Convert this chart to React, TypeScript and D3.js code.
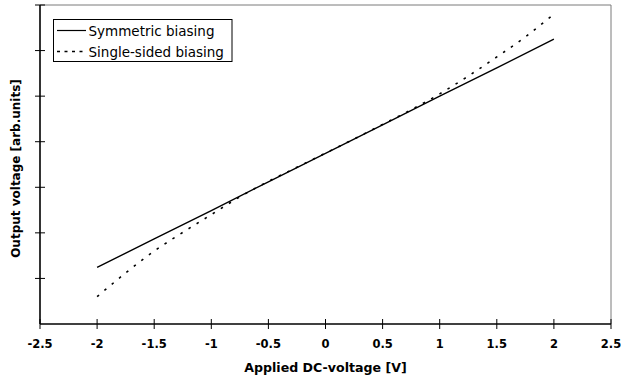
import React, { useEffect, useRef } from 'react';
import * as d3 from 'd3';

// --- data ---
const xTicks = [-2.5, -2, -1.5, -1, -0.5, 0, 0.5, 1, 1.5, 2, 2.5];
const yTicks = [0, 1, 2, 3, 4, 5, 6, 7];

const symX = [-2, -1.5, -1, -0.5, 0, 0.5, 1, 1.5, 2];
const symY = [1.24, 1.87, 2.49, 3.12, 3.745, 4.37, 5.0, 5.62, 6.25];

const singleX = [-2, -1.75, -1.5, -1.25, -1, -0.75, -0.5, -0.25, 0, 0.25, 0.5, 0.75, 1, 1.25, 1.5, 1.75, 2];
const singleY = [0.6, 1.12, 1.6, 2.01, 2.4, 2.79, 3.13, 3.44, 3.75, 4.06, 4.38, 4.7, 5.05, 5.44, 5.86, 6.3, 6.8];

const seriesNames = ['Symmetric biasing', 'Single-sided biasing'];

const App: React.FC = () => {
  const svgRef = useRef<SVGSVGElement | null>(null);

  useEffect(() => {
    if (!svgRef.current) return;
    const width = 621;
    const height = 382;
    const margin = { top: 5, right: 10, bottom: 58, left: 40 };
    const font = "'DejaVu Sans', sans-serif";

    const svg = d3.select(svgRef.current);
    svg.selectAll('*').remove();

    const x = d3.scaleLinear().domain([-2.5, 2.5]).range([margin.left, width - margin.right]);
    const y = d3.scaleLinear().domain([0, 7]).range([height - margin.bottom, margin.top]);

    const g = svg.append('g');

    // frame (top + right, thin grey)
    g.append('line')
      .attr('x1', x(-2.5)).attr('x2', x(2.5)).attr('y1', y(7)).attr('y2', y(7))
      .attr('stroke', '#7a7a7a').attr('stroke-width', 1);
    g.append('line')
      .attr('x1', x(2.5)).attr('x2', x(2.5)).attr('y1', y(7)).attr('y2', y(0))
      .attr('stroke', '#7a7a7a').attr('stroke-width', 1);

    // axes
    g.append('line')
      .attr('x1', x(-2.5)).attr('x2', x(2.5)).attr('y1', y(0)).attr('y2', y(0))
      .attr('stroke', '#000').attr('stroke-width', 1.6);
    g.append('line')
      .attr('x1', x(-2.5)).attr('x2', x(-2.5)).attr('y1', y(7)).attr('y2', y(0))
      .attr('stroke', '#000').attr('stroke-width', 1.6);

    // crossing ticks
    g.selectAll('.xt').data(xTicks).enter().append('line')
      .attr('x1', d => x(d)).attr('x2', d => x(d))
      .attr('y1', y(0) - 5).attr('y2', y(0) + 5)
      .attr('stroke', '#000').attr('stroke-width', 1);
    g.selectAll('.yt').data(yTicks.slice(1)).enter().append('line')
      .attr('x1', x(-2.5) - 5).attr('x2', x(-2.5) + 5)
      .attr('y1', d => y(d)).attr('y2', d => y(d))
      .attr('stroke', '#000').attr('stroke-width', 1);

    // x tick labels
    g.selectAll('.xl').data(xTicks).enter().append('text')
      .attr('x', d => x(d)).attr('y', y(0) + 24.3)
      .attr('text-anchor', 'middle')
      .attr('font-family', font).attr('font-size', '11.5px').attr('font-weight', 'bold')
      .text(d => String(d));

    // axis titles
    g.append('text')
      .attr('x', (x(-2.5) + x(2.5)) / 2).attr('y', y(0) + 47.7)
      .attr('text-anchor', 'middle')
      .attr('font-family', font).attr('font-size', '12.6px').attr('font-weight', 'bold')
      .text('Applied DC-voltage [V]');
    g.append('text')
      .attr('transform', `translate(20, ${(y(0) + y(7)) / 2 + 4}) rotate(-90)`)
      .attr('text-anchor', 'middle')
      .attr('font-family', font).attr('font-size', '12px').attr('font-weight', 'bold')
      .text('Output voltage [arb.units]');

    const line = d3.line<[number, number]>().x(d => x(d[0])).y(d => y(d[1]));

    const symData: [number, number][] = symX.map((v, i) => [v, symY[i]]);
    const singleData: [number, number][] = singleX.map((v, i) => [v, singleY[i]]);

    g.append('path').datum(symData)
      .attr('fill', 'none').attr('stroke', '#000').attr('stroke-width', 1.4)
      .attr('d', line);

    g.append('path').datum(singleData)
      .attr('fill', 'none').attr('stroke', '#000').attr('stroke-width', 1.6)
      .attr('stroke-dasharray', '2.5,7')
      .attr('d', d3.line<[number, number]>().x(d => x(d[0])).y(d => y(d[1])).curve(d3.curveMonotoneX));

    // legend
    const lg = g.append('g').attr('transform', 'translate(53.5, 19.5)');
    lg.append('rect').attr('width', 178.5).attr('height', 42)
      .attr('fill', '#fff').attr('stroke', '#000').attr('stroke-width', 1);
    seriesNames.forEach((name, i) => {
      const yy = 11 + i * 21;
      lg.append('line')
        .attr('x1', 3.5).attr('x2', 32.5).attr('y1', yy).attr('y2', yy)
        .attr('stroke', '#000').attr('stroke-width', i === 0 ? 1.2 : 1.4)
        .attr('stroke-dasharray', i === 0 ? null : '3,4.5');
      lg.append('text')
        .attr('x', 35).attr('y', yy + 5.5)
        .attr('font-family', font).attr('font-size', '13.5px')
        .text(name);
    });
  }, []);

  return (
    <svg ref={svgRef} width={621} height={382}
      style={{ position: 'absolute', left: 0, top: 0, background: '#fff' }} />
  );
};

export default App;
